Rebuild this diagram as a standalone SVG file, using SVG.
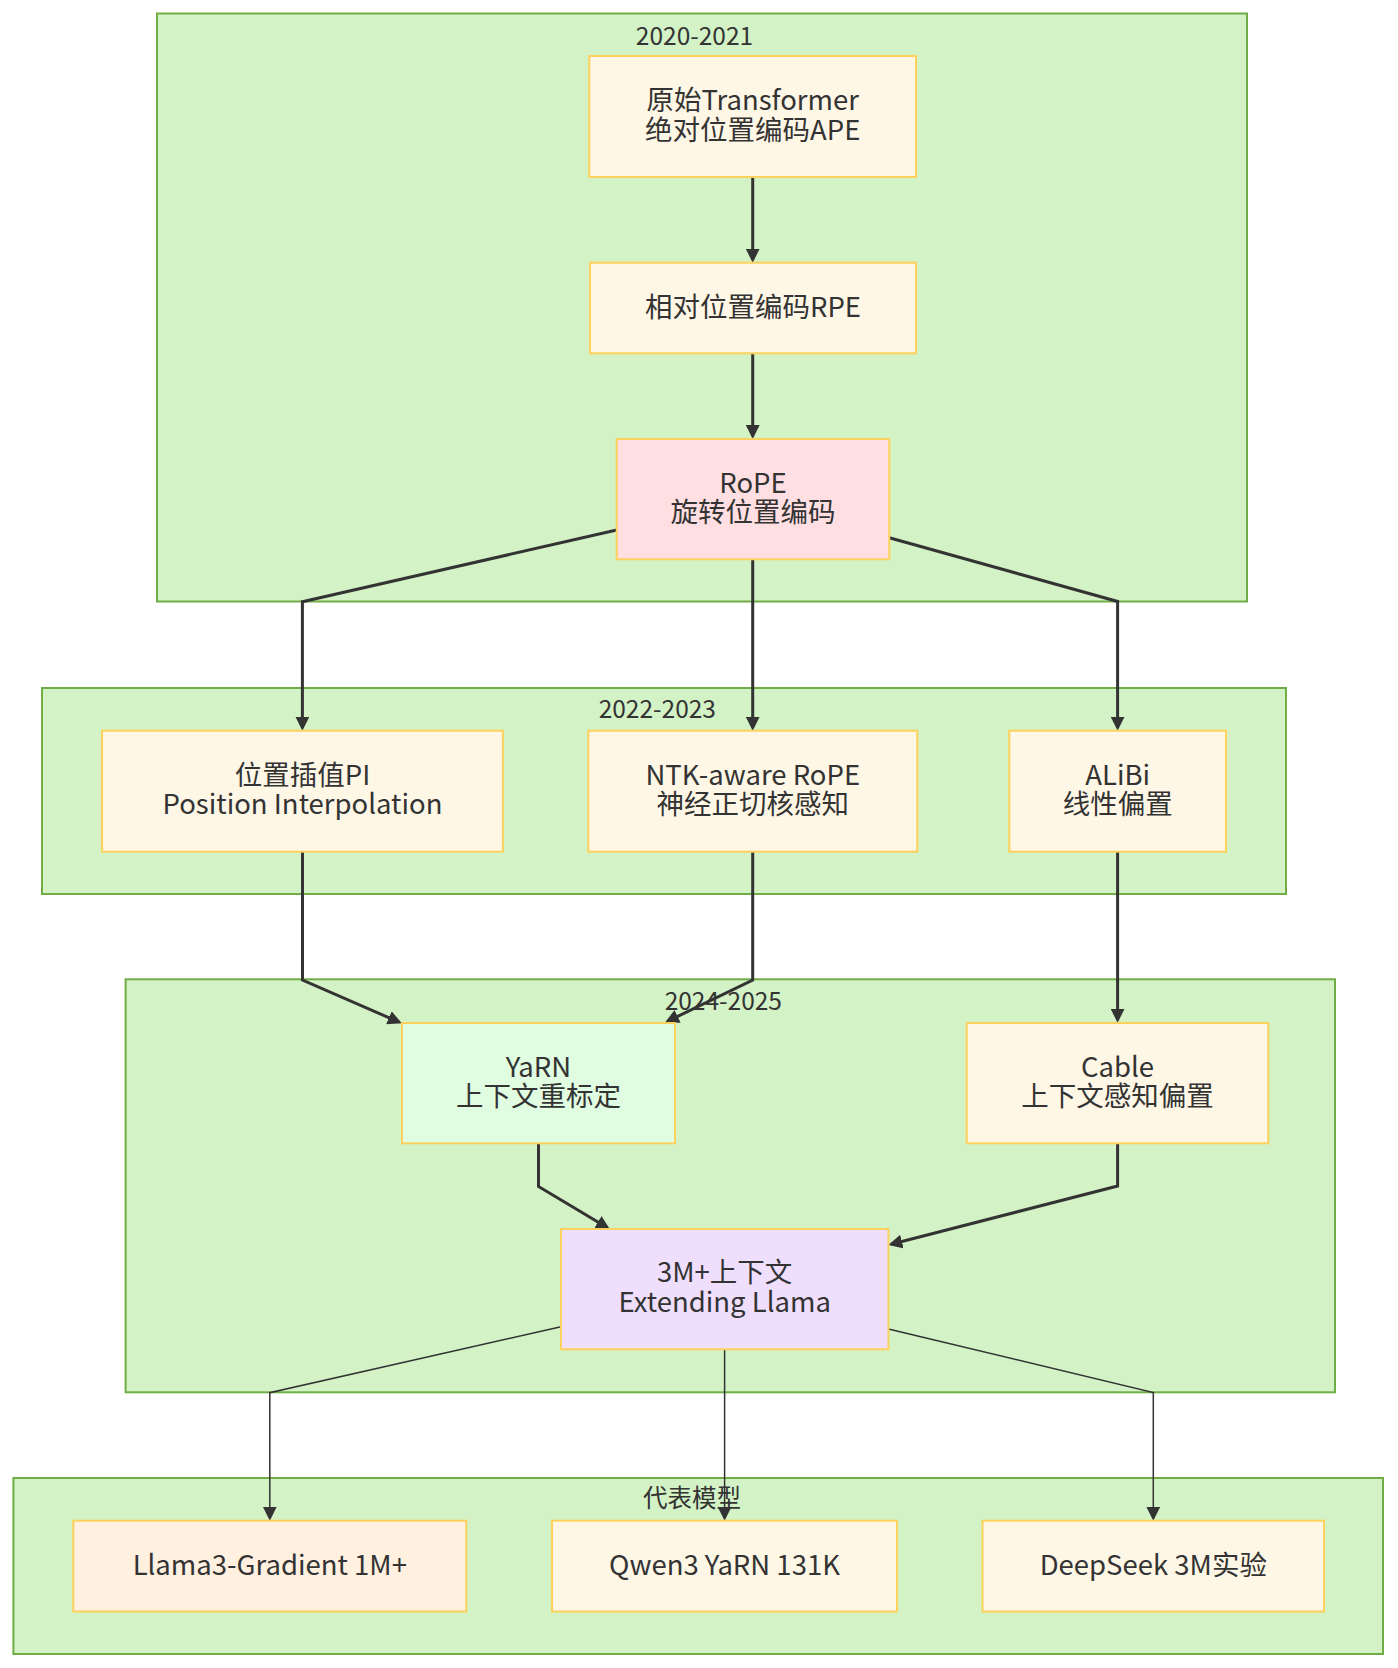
<svg xmlns="http://www.w3.org/2000/svg" width="1398" height="1668" viewBox="0 0 1398 1668">
<style>
.cl{fill:#d3f2c5;stroke:#70ad47;stroke-width:2}
.cll{font-family:"Noto Sans CJK SC","Noto Sans",sans-serif;font-size:24.5px;fill:#333;text-anchor:middle}
.nd{fill:#fff7e6;stroke:#fdd15b;stroke-width:2}
.t{font-family:"Noto Sans CJK SC","Noto Sans",sans-serif;font-size:27.5px;fill:#333;text-anchor:middle}
.e{fill:none;stroke:#333;stroke-width:3}
.et{fill:none;stroke:#333;stroke-width:1.5}
</style>
<defs>
<marker id="ah" viewBox="0 0 10 10" refX="8" refY="5" markerUnits="userSpaceOnUse" markerWidth="14" markerHeight="14" orient="auto">
<path d="M0,0 L10,5 L0,10 z" fill="#333"/>
</marker>
</defs>
<rect width="1398" height="1668" fill="#ffffff"/>
<g id="clusters">
<g id="c2020"><rect class="cl" x="157" y="13.5" width="1090" height="588"/><text class="cll" x="694.5" y="45">2020-2021</text></g>
<g id="c2022"><rect class="cl" x="42" y="688" width="1244" height="206"/><text class="cll" x="657.3" y="718">2022-2023</text></g>
<g id="c2024"><rect class="cl" x="125.6" y="979.3" width="1209.4" height="413"/><text class="cll" x="723.3" y="1010">2024-2025</text></g>
<g id="cmodels"><rect class="cl" x="13.4" y="1478" width="1369.6" height="176"/><text class="cll" x="692" y="1507">代表模型</text></g>
</g>
<g id="connectors">
<path class="e" d="M752.7,177 L752.7,259.9" marker-end="url(#ah)"/>
<path class="e" d="M752.7,353.3 L752.7,436.2" marker-end="url(#ah)"/>
<path class="e" d="M616.7,530 L302.4,601.7 L302.4,727.9" marker-end="url(#ah)"/>
<path class="e" d="M752.7,559.3 L752.7,727.9" marker-end="url(#ah)"/>
<path class="e" d="M889.3,537.7 L1117.6,601.5 L1117.6,727.9" marker-end="url(#ah)"/>
<path class="e" d="M302.5,851.7 L302.5,980 L399.2,1022.2" marker-end="url(#ah)"/>
<path class="e" d="M752.7,851.7 L752.7,980 L667.5,1021.3" marker-end="url(#ah)"/>
<path class="e" d="M1117.6,851.7 L1117.6,1020" marker-end="url(#ah)"/>
<path class="e" d="M538.5,1143.3 L538.5,1186.5 L607.5,1227.8" marker-end="url(#ah)"/>
<path class="e" d="M1117.6,1143.3 L1117.6,1186 L891.1,1244.3" marker-end="url(#ah)"/>
<path class="et" d="M561,1326.7 L269.8,1392.7 L269.8,1517.9" marker-end="url(#ah)"/>
<path class="et" d="M724.6,1349.3 L724.6,1517.9" marker-end="url(#ah)"/>
<path class="et" d="M888.4,1329 L1153.3,1392.5 L1153.3,1517.9" marker-end="url(#ah)"/>
</g>
<g id="nodes">
<g id="A"><rect class="nd" x="589.3" y="56" width="326.7" height="121"/><text class="t" x="752.7" y="110">原始Transformer</text><text class="t" x="752.7" y="140">绝对位置编码APE</text></g>
<g id="B"><rect class="nd" x="590" y="262.7" width="326" height="90.6"/><text class="t" x="753" y="317">相对位置编码RPE</text></g>
<g id="C"><rect class="nd" x="616.7" y="439" width="272.6" height="120.3" style="fill:#ffdfe2"/><text class="t" x="753" y="492.5">RoPE</text><text class="t" x="753" y="522">旋转位置编码</text></g>
<g id="D"><rect class="nd" x="102.1" y="730.7" width="400.8" height="121"/><text class="t" x="302.5" y="784.5">位置插值PI</text><text class="t" x="302.5" y="814">Position Interpolation</text></g>
<g id="E"><rect class="nd" x="588.3" y="730.7" width="329" height="121"/><text class="t" x="752.8" y="784.5">NTK-aware RoPE</text><text class="t" x="752.8" y="814">神经正切核感知</text></g>
<g id="F"><rect class="nd" x="1009.3" y="730.7" width="216.7" height="121"/><text class="t" x="1117.7" y="784.5">ALiBi</text><text class="t" x="1117.7" y="814">线性偏置</text></g>
<g id="G"><rect class="nd" x="402" y="1023" width="273" height="120.3" style="fill:#e1fde1"/><text class="t" x="538.5" y="1076.5">YaRN</text><text class="t" x="538.5" y="1106">上下文重标定</text></g>
<g id="H"><rect class="nd" x="966.7" y="1023" width="301.6" height="120.3"/><text class="t" x="1117.5" y="1076.5">Cable</text><text class="t" x="1117.5" y="1106">上下文感知偏置</text></g>
<g id="I"><rect class="nd" x="561" y="1229" width="327.4" height="120.3" style="fill:#efdffd"/><text class="t" x="724.7" y="1282">3M+上下文</text><text class="t" x="724.7" y="1312">Extending Llama</text></g>
<g id="J"><rect class="nd" x="73.3" y="1520.7" width="393" height="90.8" style="fill:#fff0df"/><text class="t" x="269.8" y="1575">Llama3-Gradient 1M+</text></g>
<g id="K"><rect class="nd" x="552" y="1520.7" width="345" height="90.8"/><text class="t" x="724.5" y="1575">Qwen3 YaRN 131K</text></g>
<g id="L"><rect class="nd" x="982.5" y="1520.7" width="341.5" height="90.8"/><text class="t" x="1153.3" y="1575">DeepSeek 3M实验</text></g>
</g>
</svg>
